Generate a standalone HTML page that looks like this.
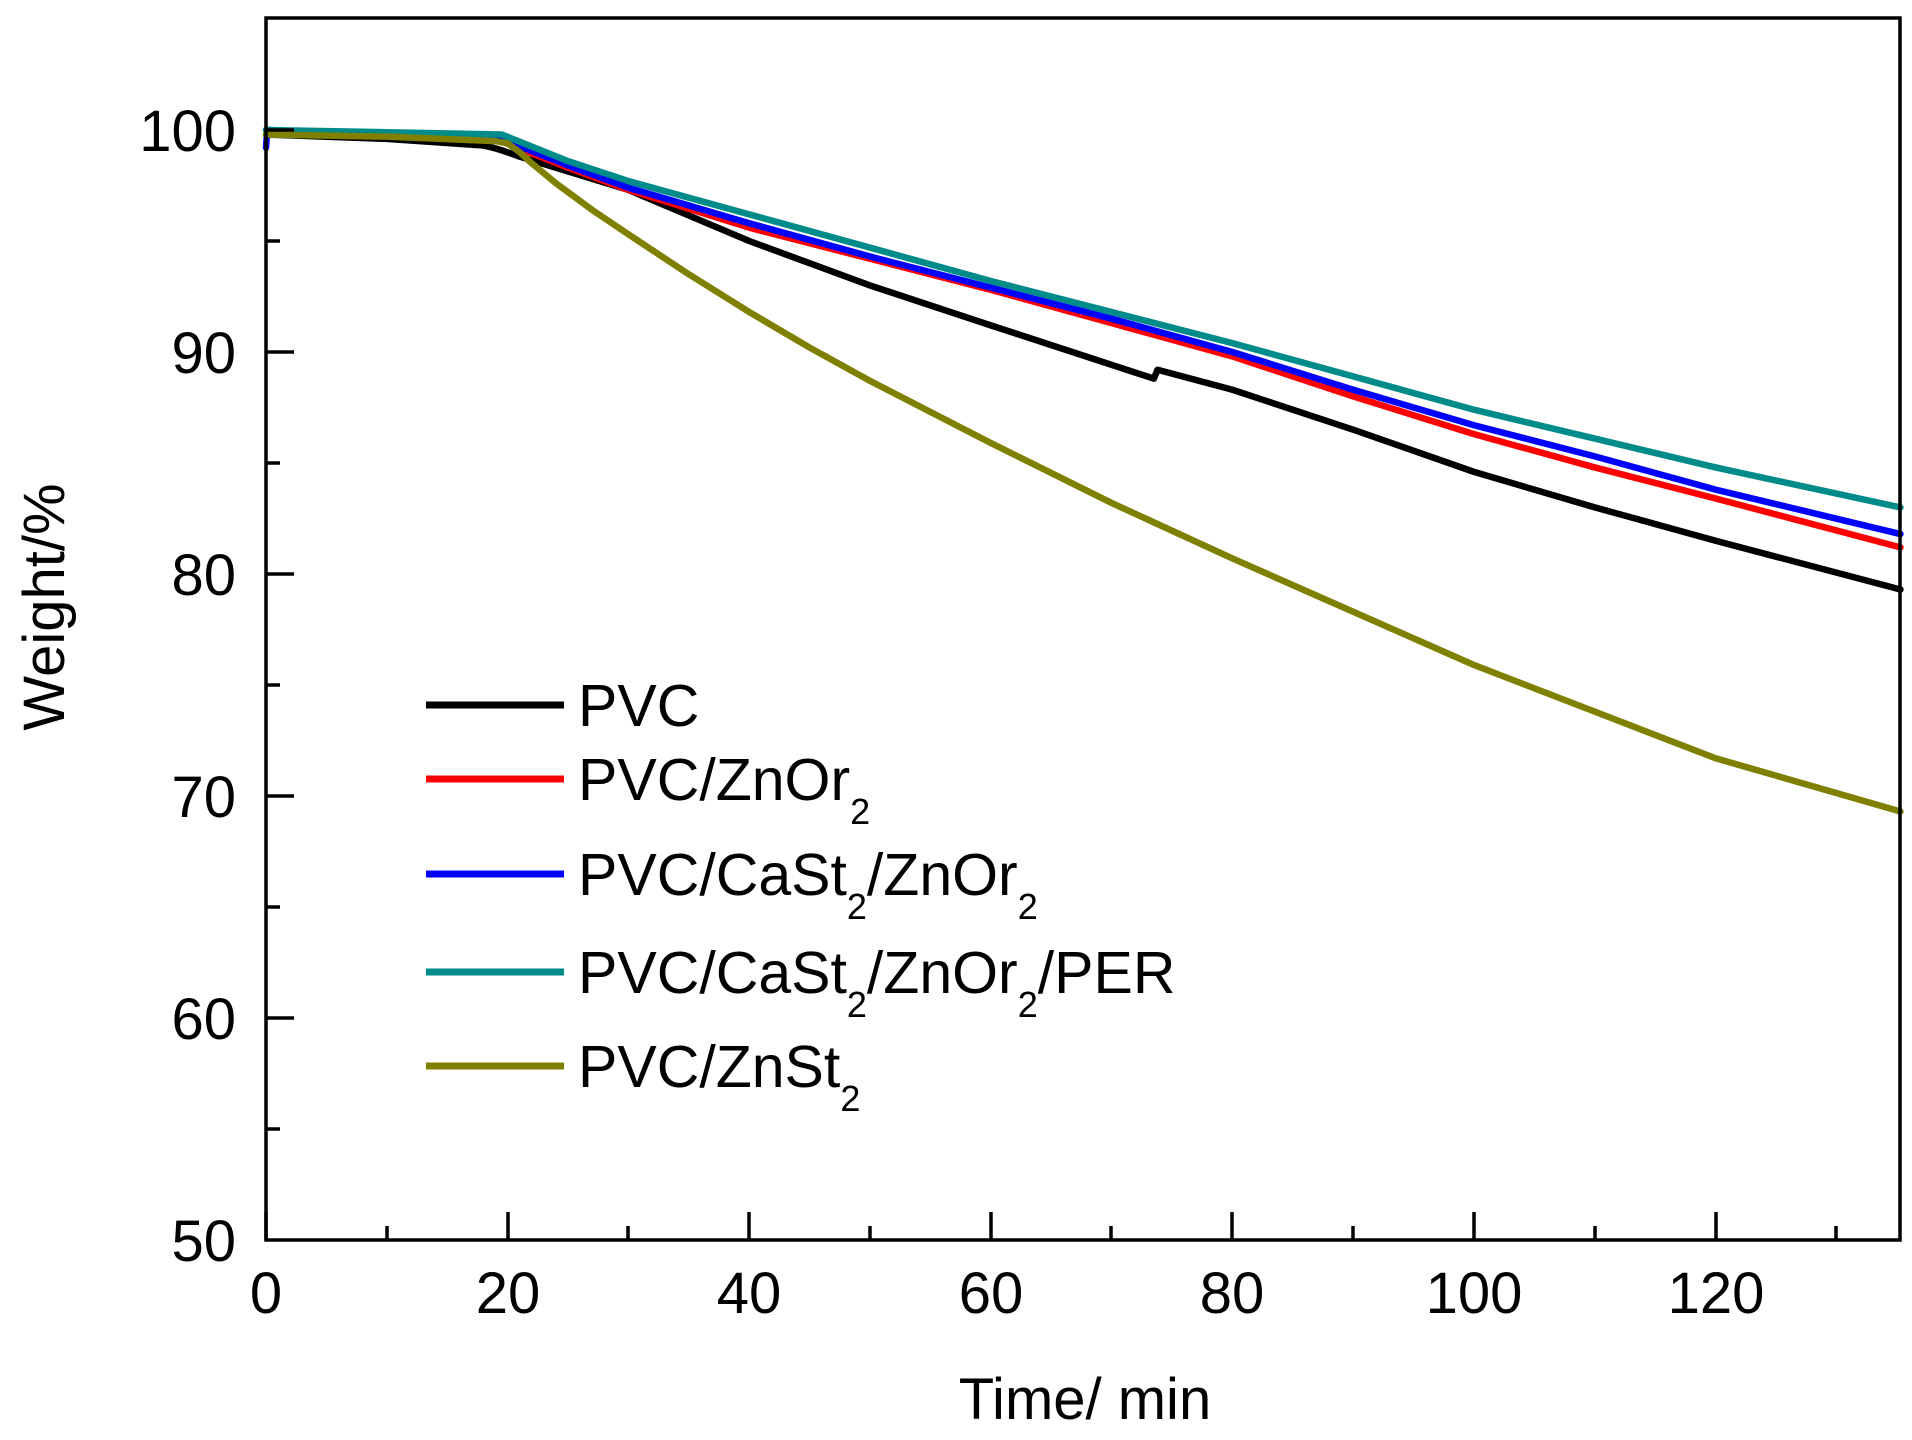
<!DOCTYPE html>
<html><head><meta charset="utf-8"><style>
html,body{margin:0;padding:0;background:#fff;}
svg{display:block;font-family:"Liberation Sans",Arial,sans-serif;}
</style></head><body>
<svg width="1912" height="1440" viewBox="0 0 1912 1440" xmlns="http://www.w3.org/2000/svg">
<rect width="1912" height="1440" fill="#fff"/>
<g transform="translate(266,1240) scale(12.08,-22.2) translate(0,-50)" fill="none" stroke-linejoin="round" stroke-linecap="round">
<path vector-effect="non-scaling-stroke" stroke="#000" stroke-width="6.5" d="M0,99.8 L10,99.6 L18,99.3 C19,99.2 20,99 21,98.8 L30,97.3 L40,95 L50,93 L60,91.2 L73.5,88.8 L73.8,89.2 L80,88.3 L90,86.5 L100,84.6 L110,83 L120,81.5 L135.3,79.3"/>
<path vector-effect="non-scaling-stroke" stroke="#ff0000" stroke-width="6.5" d="M0,100 L10,99.8 L19,99.6 L25,98.3 L30,97.3 L40,95.6 L50,94.2 L60,92.8 L70,91.3 L80,89.8 L90,88 L100,86.3 L110,84.8 L120,83.4 L135.3,81.2"/>
<path vector-effect="non-scaling-stroke" stroke="#0000ff" stroke-width="6.5" d="M0,99.2 L0.1,100 L10,99.8 L19,99.7 L25,98.4 L30,97.4 L40,95.8 L50,94.3 L60,92.9 L70,91.5 L80,90 L90,88.3 L100,86.7 L110,85.3 L120,83.8 L135.3,81.8"/>
<path vector-effect="non-scaling-stroke" stroke="#008b8b" stroke-width="6.5" d="M0,100 L10,99.9 L19.5,99.8 L25,98.6 L30,97.7 L40,96.2 L50,94.7 L60,93.2 L70,91.8 L80,90.4 L90,88.9 L100,87.4 L110,86.1 L120,84.8 L135.3,83"/>
<path vector-effect="non-scaling-stroke" stroke="#808000" stroke-width="6.5" d="M0,99.8 L10,99.7 L19,99.5 L20,99.4 L21,99.0 L22,98.5 L24,97.6 L27,96.4 L30,95.3 L35,93.5 L40,91.8 L45,90.2 L50,88.7 L60,85.9 L70,83.2 L80,80.7 L90,78.3 L100,75.9 L110,73.8 L120,71.7 L135.3,69.3"/>
</g>
<g stroke="#000" stroke-width="3.5" fill="none">
<rect x="266" y="18" width="1634" height="1222"/>
</g>
<g stroke="#000" stroke-width="3.5">
<line x1="266" y1="1240" x2="266" y2="1212"/><line x1="508" y1="1240" x2="508" y2="1212"/><line x1="749" y1="1240" x2="749" y2="1212"/><line x1="991" y1="1240" x2="991" y2="1212"/><line x1="1232" y1="1240" x2="1232" y2="1212"/><line x1="1474" y1="1240" x2="1474" y2="1212"/><line x1="1716" y1="1240" x2="1716" y2="1212"/>
<line x1="387" y1="1240" x2="387" y2="1226"/><line x1="628" y1="1240" x2="628" y2="1226"/><line x1="870" y1="1240" x2="870" y2="1226"/><line x1="1111" y1="1240" x2="1111" y2="1226"/><line x1="1353" y1="1240" x2="1353" y2="1226"/><line x1="1595" y1="1240" x2="1595" y2="1226"/><line x1="1836" y1="1240" x2="1836" y2="1226"/>
<line x1="266" y1="1018" x2="294" y2="1018"/><line x1="266" y1="796" x2="294" y2="796"/><line x1="266" y1="574" x2="294" y2="574"/><line x1="266" y1="352" x2="294" y2="352"/><line x1="266" y1="130" x2="294" y2="130"/>
<line x1="266" y1="1129" x2="280" y2="1129"/><line x1="266" y1="907" x2="280" y2="907"/><line x1="266" y1="685" x2="280" y2="685"/><line x1="266" y1="463" x2="280" y2="463"/><line x1="266" y1="241" x2="280" y2="241"/>
</g>
<g font-size="58" fill="#000" text-anchor="middle">
<text x="266" y="1313">0</text><text x="508" y="1313">20</text><text x="749" y="1313">40</text><text x="991" y="1313">60</text><text x="1232" y="1313">80</text><text x="1474" y="1313">100</text><text x="1716" y="1313">120</text>
</g>
<g font-size="58" fill="#000" text-anchor="end">
<text x="236" y="1261">50</text><text x="236" y="1039">60</text><text x="236" y="817">70</text><text x="236" y="595">80</text><text x="236" y="373">90</text><text x="236" y="151">100</text>
</g>
<text x="1085" y="1419" font-size="58" text-anchor="middle">Time/ min</text>
<text transform="translate(64,607) rotate(-90)" font-size="58" text-anchor="middle">Weight/%</text>
<g stroke-width="7">
<line x1="426" y1="705" x2="564" y2="705" stroke="#000"/>
<line x1="426" y1="779" x2="564" y2="779" stroke="#ff0000"/>
<line x1="426" y1="874" x2="564" y2="874" stroke="#0000ff"/>
<line x1="426" y1="972" x2="564" y2="972" stroke="#008b8b"/>
<line x1="426" y1="1066" x2="564" y2="1066" stroke="#808000"/>
</g>
<g font-size="59" fill="#000">
<text x="578" y="726">PVC</text>
<text x="578" y="800">PVC/ZnOr<tspan font-size="36" dy="24">2</tspan></text>
<text x="578" y="895">PVC/CaSt<tspan font-size="36" dy="24">2</tspan><tspan dy="-24">/ZnOr</tspan><tspan font-size="36" dy="24">2</tspan></text>
<text x="578" y="993">PVC/CaSt<tspan font-size="36" dy="24">2</tspan><tspan dy="-24">/ZnOr</tspan><tspan font-size="36" dy="24">2</tspan><tspan dy="-24">/PER</tspan></text>
<text x="578" y="1087">PVC/ZnSt<tspan font-size="36" dy="24">2</tspan></text>
</g>
</svg>
</body></html>
